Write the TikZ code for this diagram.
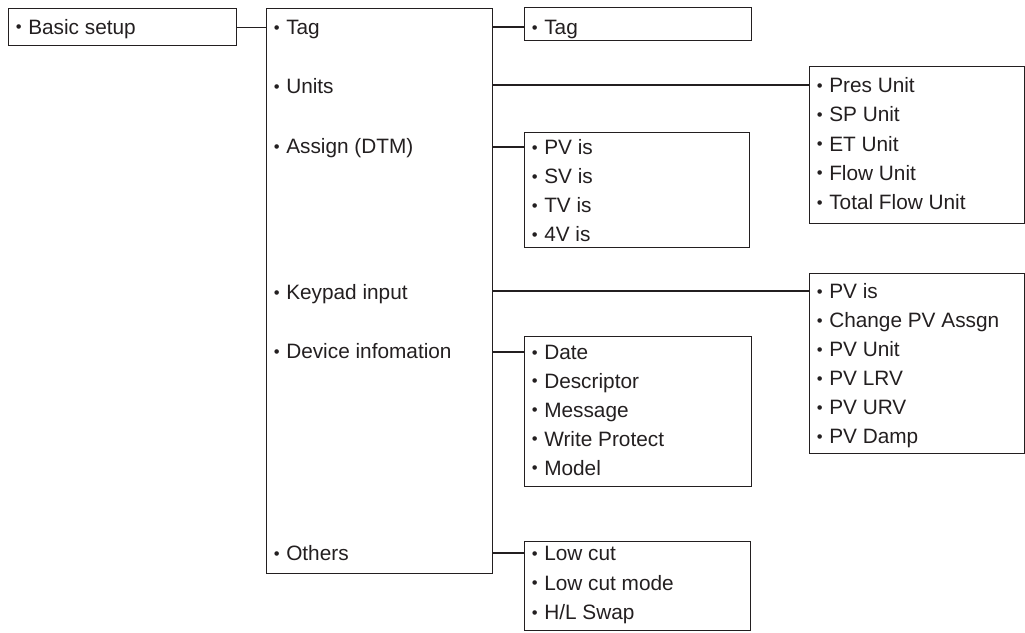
\documentclass[tikz,border=0pt]{standalone}
\usepackage{fontspec}
\usepackage{graphicx}
\setmainfont{Liberation Sans}
\definecolor{ink}{HTML}{231F20}
\newcommand{\bul}{\makebox[0.35em][c]{\raisebox{0.07em}{\scalebox{0.8}{•}}}}
\begin{document}
\begin{tikzpicture}[x=1pt,y=-1pt,
  boxst/.style={draw=ink, line width=1.2pt, inner sep=0pt, anchor=north west, rectangle},
  item/.style={anchor=west, inner xsep=0pt, inner ysep=0pt, text height=15pt, text depth=0pt,
     text=ink, font=\fontsize{20.8}{25}\selectfont},
  link/.style={draw=ink, line width=1.2pt}]
\useasboundingbox (0,0) rectangle (1025,632);
% boxes
\node[boxst, minimum width=228pt, minimum height=37pt] (basic) at (8,8) {};
\node[boxst, minimum width=226pt, minimum height=565pt] (mid) at (266,8) {};
\node[boxst, minimum width=227pt, minimum height=33pt] (tagc) at (524,7) {};
\node[boxst, minimum width=215pt, minimum height=157pt] (unitc) at (809,66) {};
\node[boxst, minimum width=225pt, minimum height=115pt] (assignc) at (524,132) {};
\node[boxst, minimum width=215pt, minimum height=180pt] (keyc) at (809,273) {};
\node[boxst, minimum width=227pt, minimum height=150pt] (devc) at (524,336) {};
\node[boxst, minimum width=226pt, minimum height=89pt] (othc) at (524,541) {};
% basic
\node[item] (b1) at (15,26.5) {\bul{} Basic setup};
% middle column
\node[item] (m1) at (273,27) {\bul{} Tag};
\node[item] (m2) at (273,86) {\bul{} Units};
\node[item] (m3) at (273,146) {\bul{} Assign (DTM)};
\node[item] (m4) at (273,292) {\bul{} Keypad input};
\node[item] (m5) at (273,351) {\bul{} Device infomation};
\node[item] (m6) at (273,553) {\bul{} Others};
% children
\node[item] (t1) at (531,27) {\bul{} Tag};
\foreach \s [count=\i from 0] in {Pres Unit,SP Unit,ET Unit,Flow Unit,Total Flow Unit}
  \node[item] (u\i) at (816,85+29.3*\i) {\bul{} \s};
\foreach \s [count=\i from 0] in {PV is,SV is,TV is,4V is}
  \node[item] (a\i) at (531,147+29*\i) {\bul{} \s};
\foreach \s [count=\i from 0] in {PV is,Change PV Assgn,PV Unit,PV LRV,PV URV,PV Damp}
  \node[item] (k\i) at (816,291+29*\i) {\bul{} \s};
\foreach \s [count=\i from 0] in {Date,Descriptor,Message,Write Protect,Model}
  \node[item] (d\i) at (531,352+28.9*\i) {\bul{} \s};
\foreach \s [count=\i from 0] in {Low cut,Low cut mode,H/L Swap}
  \node[item] (o\i) at (531,553+29.5*\i) {\bul{} \s};
% connectors
\draw[link] (basic.east) -- (basic.east -| mid.west);
\draw[link] (mid.east |- t1) -- (tagc.west |- t1);
\draw[link] (mid.east |- u0) -- (unitc.west |- u0);
\draw[link] (mid.east |- a0) -- (assignc.west |- a0);
\draw[link] (mid.east |- k0) -- (keyc.west |- k0);
\draw[link] (mid.east |- d0) -- (devc.west |- d0);
\draw[link] (mid.east |- o0) -- (othc.west |- o0);
\end{tikzpicture}
\end{document}
